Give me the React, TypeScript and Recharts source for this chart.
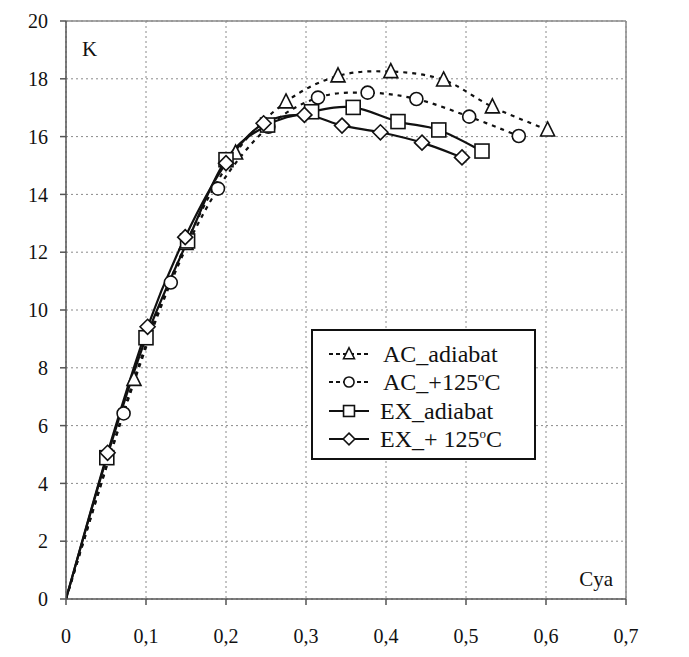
import React from 'react';
import { LineChart, Line, XAxis, YAxis, CartesianGrid, Legend, ReferenceLine } from 'recharts';

const xTicks = [0, 0.1, 0.2, 0.3, 0.4, 0.5, 0.6, 0.7];
const yTicks = [0, 2, 4, 6, 8, 10, 12, 14, 16, 18, 20];

const acAdiabatX = [0, 0.085, 0.15, 0.212, 0.275, 0.34, 0.406, 0.472, 0.533, 0.602];
const acAdiabatY = [0, 7.6, 12.3, 15.43, 17.2, 18.1, 18.25, 17.96, 17.03, 16.23];

const acHotX = [0, 0.072, 0.131, 0.19, 0.253, 0.315, 0.377, 0.438, 0.504, 0.566];
const acHotY = [0, 6.42, 10.95, 14.2, 16.34, 17.35, 17.52, 17.3, 16.69, 16.02];

const exAdiabatX = [0, 0.051, 0.1, 0.152, 0.2, 0.252, 0.307, 0.359, 0.415, 0.466, 0.52];
const exAdiabatY = [0, 4.89, 9.04, 12.39, 15.2, 16.4, 16.86, 17.01, 16.52, 16.23, 15.5];

const exHotX = [0, 0.052, 0.102, 0.149, 0.2, 0.247, 0.298, 0.345, 0.393, 0.445, 0.495];
const exHotY = [0, 5.06, 9.42, 12.52, 15.08, 16.46, 16.75, 16.38, 16.15, 15.79, 15.28];

const build = (xs: number[], ys: number[]) => xs.map((x, i) => ({ x, y: ys[i] }));

const FONT = '"Liberation Serif", "Times New Roman", serif';
const INK = '#111';

// Catmull-Rom style smoothing (similar to Excel's smoothed lines)
const smoothCurve = (context: any) => {
  let pts: [number, number][] = [];
  return {
    areaStart() {},
    areaEnd() {},
    lineStart() { pts = []; },
    point(x: number, y: number) { pts.push([+x, +y]); },
    lineEnd() {
      if (!pts.length) return;
      context.moveTo(pts[0][0], pts[0][1]);
      for (let i = 0; i < pts.length - 1; i++) {
        const p0 = pts[i - 1] || pts[i];
        const p1 = pts[i];
        const p2 = pts[i + 1];
        const p3 = pts[i + 2] || p2;
        const c1x = p1[0] + (p2[0] - p0[0]) / 6;
        const c1y = p1[1] + (p2[1] - p0[1]) / 6;
        const c2x = p2[0] - (p3[0] - p1[0]) / 6;
        const c2y = p2[1] - (p3[1] - p1[1]) / 6;
        context.bezierCurveTo(c1x, c1y, c2x, c2y, p2[0], p2[1]);
      }
    },
  };
};

type Shape = 'triangle' | 'circle' | 'square' | 'diamond';

const markerEl = (shape: Shape, cx: number, cy: number, key?: string, k = 1) => {
  const common = { fill: '#fff', stroke: INK, strokeWidth: 1.6 };
  if (shape === 'triangle') {
    const s = 7 * k;
    return <path key={key} d={`M${cx},${cy - s - k}L${cx + s},${cy + s - k}L${cx - s},${cy + s - k}Z`} {...common} />;
  }
  if (shape === 'circle') return <circle key={key} cx={cx} cy={cy} r={6.5 * k} {...common} />;
  if (shape === 'square') return <rect key={key} x={cx - 7 * k} y={cy - 7 * k} width={14 * k} height={14 * k} {...common} />;
  const d = 7.5 * k;
  return <path key={key} d={`M${cx},${cy - d}L${cx + d},${cy}L${cx},${cy + d}L${cx - d},${cy}Z`} {...common} />;
};

const dotFor = (shape: Shape) => (props: any) => {
  const { cx, cy, index } = props;
  if (cx == null || cy == null || index === 0) return <g key={`e-${shape}-${index}`} />;
  return markerEl(shape, cx, cy, `d-${shape}-${index}`);
};

const Deg = () => (
  <span style={{ fontSize: 13, position: 'relative', top: -9, lineHeight: 0 }}>o</span>
);

const legendItems: { label: React.ReactNode; shape: Shape; dashed: boolean; textX: number }[] = [
  { label: <>AC_adiabat</>, shape: 'triangle', dashed: true, textX: 70 },
  { label: <>AC_+125<Deg />C</>, shape: 'circle', dashed: true, textX: 70 },
  { label: <>EX_adiabat</>, shape: 'square', dashed: false, textX: 67 },
  { label: <>EX_+ 125<Deg />C</>, shape: 'diamond', dashed: false, textX: 67 },
];

const LegendBox = () => (
  <div
    style={{
      width: 225,
      height: 131,
      border: `2px solid ${INK}`,
      boxSizing: 'border-box',
      background: '#fff',
      fontFamily: FONT,
      fontSize: 24,
      color: INK,
      paddingTop: 9,
    }}
  >
    {legendItems.map((it, i) => (
      <div key={i} style={{ position: 'relative', height: 28.3, lineHeight: '28px' }}>
        <svg width={50} height={28} style={{ position: 'absolute', left: 14, top: 0 }}>
          <line x1={2} y1={14} x2={42} y2={14} stroke={INK} strokeWidth={2} strokeDasharray={it.dashed ? '4 3' : undefined} />
          {markerEl(it.shape, 22, 14, undefined, 0.78)}
        </svg>
        <span style={{ position: 'absolute', left: it.textX, top: 0, whiteSpace: 'nowrap' }}>{it.label}</span>
      </div>
    ))}
  </div>
);

const fmt = (v: number) => String(v).replace('.', ',');

export default function App() {
  return (
    <div style={{ position: 'absolute', left: 0, top: 0, background: '#fff' }}>
      <LineChart width={689} height={657} margin={{ top: 21, right: 63, left: 0, bottom: 18 }}>
        <CartesianGrid stroke="#8a8a8a" strokeDasharray="2 3" strokeWidth={1} />
        <XAxis
          type="number"
          dataKey="x"
          domain={[0, 0.7]}
          ticks={xTicks}
          tickFormatter={fmt}
          height={40}
          stroke="#555"
          strokeWidth={1.5}
          tickSize={6}
          tickMargin={24}
          tick={{ fill: INK, fontSize: 20, fontFamily: FONT }}
          allowDataOverflow
        />
        <YAxis
          type="number"
          domain={[0, 20]}
          ticks={yTicks}
          width={66}
          stroke="#555"
          strokeWidth={1.5}
          tickSize={6}
          tickMargin={12}
          tick={{ fill: INK, fontSize: 20, fontFamily: FONT }}
        />
        <ReferenceLine y={20} stroke="#8a8a8a" strokeWidth={1.5} />
        <ReferenceLine x={0.7} stroke="#8a8a8a" strokeWidth={1.5} />
        <Line data={build(acAdiabatX, acAdiabatY)} dataKey="y" name="AC_adiabat" type={smoothCurve as any} stroke={INK} strokeWidth={2.2} strokeDasharray="4 5" dot={dotFor('triangle')} isAnimationActive={false} />
        <Line data={build(acHotX, acHotY)} dataKey="y" name="AC_+125°C" type={smoothCurve as any} stroke={INK} strokeWidth={2.2} strokeDasharray="4 5" dot={dotFor('circle')} isAnimationActive={false} />
        <Line data={build(exAdiabatX, exAdiabatY)} dataKey="y" name="EX_adiabat" type={smoothCurve as any} stroke={INK} strokeWidth={2.2} dot={dotFor('square')} isAnimationActive={false} />
        <Line data={build(exHotX, exHotY)} dataKey="y" name="EX_+ 125°C" type={smoothCurve as any} stroke={INK} strokeWidth={2.2} dot={dotFor('diamond')} isAnimationActive={false} />
        <Legend
          layout="vertical"
          align="center"
          verticalAlign="middle"
          content={() => <LegendBox />}
          wrapperStyle={{ left: 311, top: 329, width: 225, height: 131 }}
        />
        <text x={82} y={56} fontFamily={FONT} fontSize={21} fill={INK}>K</text>
        <text x={613} y={586} fontFamily={FONT} fontSize={21} fill={INK} textAnchor="end">Cya</text>
      </LineChart>
    </div>
  );
}
